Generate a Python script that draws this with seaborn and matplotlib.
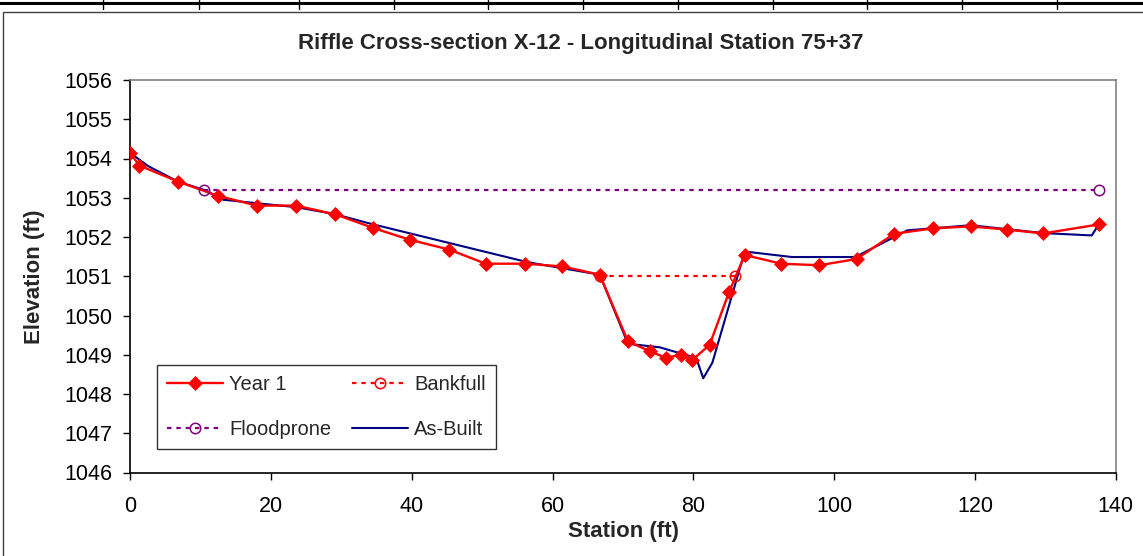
import numpy as np
import seaborn as sns
import matplotlib.pyplot as plt
from matplotlib.lines import Line2D
from matplotlib.patches import Rectangle

# surveyed cross-section, Year 1
station_y1 = [0.0, 1.3, 6.8, 12.4, 18.0, 23.5, 29.1, 34.5, 39.7, 45.3, 50.5, 56.1,
              61.4, 66.7, 70.7, 73.8, 76.1, 78.2, 79.8, 82.3, 85.1, 87.3, 92.5,
              97.9, 103.2, 108.5, 114.0, 119.4, 124.5, 129.7, 137.6]
elev_y1 = [1054.13, 1053.82, 1053.41, 1053.05, 1052.80, 1052.80, 1052.58, 1052.23,
           1051.93, 1051.68, 1051.32, 1051.32, 1051.25, 1051.04, 1049.34, 1049.09,
           1048.92, 1049.00, 1048.86, 1049.25, 1050.61, 1051.54, 1051.32, 1051.28,
           1051.44, 1052.08, 1052.22, 1052.27, 1052.19, 1052.09, 1052.32]

# as-built survey
station_ab = [0.0, 2.6, 6.8, 10.5, 13.2, 18.0, 23.6, 29.1, 34.1, 56.4, 66.7, 70.7,
              75.2, 80.4, 81.4, 82.7, 87.3, 94.0, 103.0, 110.4, 119.4, 129.7,
              136.6, 137.6]
elev_ab = [1054.14, 1053.80, 1053.41, 1053.20, 1052.95, 1052.86, 1052.76, 1052.58,
           1052.34, 1051.36, 1051.04, 1049.28, 1049.19, 1048.92, 1048.40, 1048.80,
           1051.63, 1051.49, 1051.49, 1052.17, 1052.30, 1052.10, 1052.04, 1052.32]

bankfull_x = [66.7, 85.9]
bankfull_y = [1051.0, 1051.0]
floodprone_x = [10.5, 137.6]
floodprone_y = [1053.19, 1053.19]

sns.set_style("white")
plt.rcParams['font.family'] = ['Liberation Sans', 'DejaVu Sans']

W, H = 1143, 556
fig = plt.figure(figsize=(W/100, H/100), dpi=100)
ax = fig.add_axes([130.3/W, 1-472.5/H, 985.4/W, 392.5/H])

sns.lineplot(x=station_y1, y=elev_y1, ax=ax, color='#FF0000', lw=1.7, marker='D',
             markersize=7, markeredgecolor='#FF0000', markeredgewidth=0.5,
             sort=False, estimator=None, label='Year 1', zorder=3)
sns.lineplot(x=bankfull_x, y=bankfull_y, ax=ax, color='#FF0000', lw=1.6,
             linestyle=(0, (2, 2.2)), marker='o', markersize=7.5, markerfacecolor='none',
             markeredgecolor='#FF0000', markeredgewidth=1.1,
             sort=False, estimator=None, label='Bankfull', zorder=3)
sns.lineplot(x=floodprone_x, y=floodprone_y, ax=ax, color='#800080', lw=1.6,
             linestyle=(0, (2, 2.2)), marker='o', markersize=7.5, markerfacecolor='none',
             markeredgecolor='#800080', markeredgewidth=1.1,
             sort=False, estimator=None, label='Floodprone', zorder=3)
sns.lineplot(x=station_ab, y=elev_ab, ax=ax, color='#000080', lw=1.5,
             sort=False, estimator=None, label='As-Built', zorder=2.8)

ax.set_xlim(0, 140)
ax.set_ylim(1046, 1056)
ax.set_xticks(np.arange(0, 141, 20))
ax.set_yticks(np.arange(1046, 1057, 1))
ax.tick_params(axis='both', labelsize=15.5, colors='black', direction='out',
               length=5, width=1)
ax.tick_params(axis='x', pad=12)
ax.tick_params(axis='y', pad=8)
ax.tick_params(bottom=True, left=True)

for side in ['left', 'bottom']:
    ax.spines[side].set_color('black')
    ax.spines[side].set_linewidth(1.2)
for side in ['top', 'right']:
    ax.spines[side].set_color('#808080')
    ax.spines[side].set_linewidth(1.2)

ax.set_xlabel('Station (ft)', fontsize=16, fontweight='bold', labelpad=3)
ax.set_ylabel('Elevation (ft)', fontsize=16, fontweight='bold', labelpad=14)

handles, labels = ax.get_legend_handles_labels()
order = [labels.index(n) for n in ['Year 1', 'Floodprone', 'Bankfull', 'As-Built']]
leg = ax.legend([handles[i] for i in order], [labels[i] for i in order], ncol=2,
                loc='upper left', bbox_to_anchor=(0.027, (472.5-365)/392.5),
                fontsize=14.5, frameon=True, fancybox=False, edgecolor='black',
                borderpad=0.5, labelspacing=1.3, handlelength=2.8,
                handletextpad=0.3, columnspacing=1.0, borderaxespad=0)
leg.get_frame().set_linewidth(1.0)

fig.text(581/W, 1-49/H, 'Riffle Cross-section X-12 - Longitudinal Station 75+37',
         ha='center', va='baseline', fontsize=16, fontweight='bold')

# chart frame and spreadsheet grid strip above it
fig.add_artist(Rectangle((3/W, -0.01), 1.01, 1-12/H+0.01, transform=fig.transFigure,
                         fill=False, edgecolor='#404040', lw=1.0))
fig.add_artist(Line2D([0, 1], [1-2.5/H, 1-2.5/H], transform=fig.transFigure,
                      color='black', lw=2.2))
for gx in [103, 199, 299, 394, 488, 583, 678, 773, 867, 962, 1057]:
    fig.add_artist(Line2D([gx/W, gx/W], [1, 1-9/H], transform=fig.transFigure,
                          color='black', lw=1.0))

fig.savefig('out.png', dpi=100)
